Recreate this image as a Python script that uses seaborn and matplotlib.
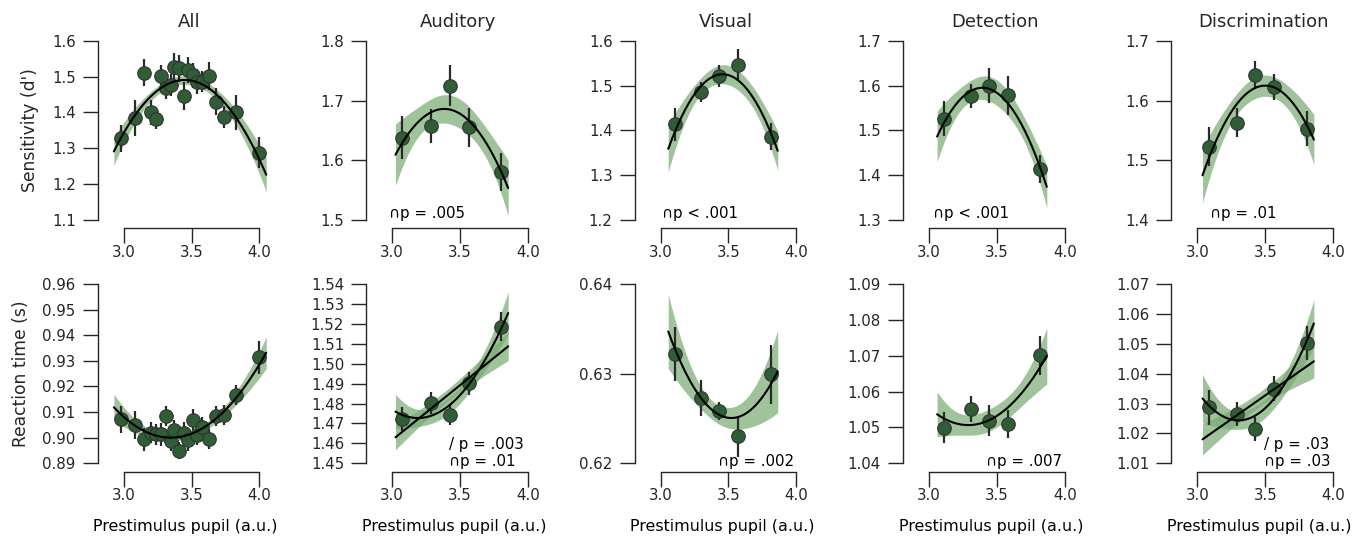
import numpy as np
import matplotlib
matplotlib.use("Agg")
import matplotlib.pyplot as plt
from matplotlib.ticker import FormatStrFormatter
import seaborn as sns

# ---------------- data ----------------
titles = ["All", "Auditory", "Visual", "Detection", "Discrimination"]

all_x = [2.978, 3.084, 3.150, 3.199, 3.236, 3.275, 3.310, 3.346, 3.368, 3.408,
         3.442, 3.477, 3.509, 3.543, 3.580, 3.629, 3.680, 3.740, 3.826, 4.000]
all_dprime = [1.328, 1.384, 1.511, 1.401, 1.383, 1.503, 1.467, 1.476, 1.528, 1.523,
              1.446, 1.518, 1.504, 1.486, 1.486, 1.502, 1.430, 1.387, 1.400, 1.288]
all_dprime_err = [0.037, 0.050, 0.037, 0.035, 0.028, 0.028, 0.030, 0.030, 0.038, 0.038,
                  0.040, 0.036, 0.035, 0.035, 0.030, 0.040, 0.037, 0.030, 0.050, 0.043]
all_rt = [0.9072, 0.9048, 0.8994, 0.9020, 0.9013, 0.9013, 0.9085, 0.8987, 0.9029, 0.8950,
          0.9020, 0.8990, 0.9070, 0.9012, 0.9040, 0.8995, 0.9085, 0.9089, 0.9166, 0.9314]
all_rt_err = [0.0052, 0.0055, 0.0045, 0.0040, 0.0040, 0.0045, 0.0040, 0.0040, 0.0040, 0.0033,
              0.0040, 0.0040, 0.0040, 0.0040, 0.0040, 0.0040, 0.0040, 0.0040, 0.0040, 0.0065]

aud_x = [3.075, 3.285, 3.423, 3.563, 3.805]
aud_dprime = [1.638, 1.657, 1.725, 1.655, 1.580]
aud_dprime_err = [0.036, 0.028, 0.034, 0.032, 0.032]
aud_rt = [1.4723, 1.4801, 1.4743, 1.4902, 1.5186]
aud_rt_err = [0.0060, 0.0055, 0.0050, 0.0057, 0.0075]

vis_x = [3.107, 3.296, 3.430, 3.571, 3.813]
vis_dprime = [1.414, 1.486, 1.521, 1.546, 1.386]
vis_dprime_err = [0.037, 0.022, 0.025, 0.035, 0.030]
vis_rt = [0.6322, 0.6273, 0.6258, 0.6230, 0.6299]
vis_rt_err = [0.0030, 0.0020, 0.0010, 0.0023, 0.0033]

det_x = [3.110, 3.310, 3.443, 3.584, 3.818]
det_dprime = [1.526, 1.576, 1.600, 1.578, 1.414]
det_dprime_err = [0.039, 0.027, 0.039, 0.043, 0.032]
det_rt = [1.0499, 1.0551, 1.0519, 1.0510, 1.0701]
det_rt_err = [0.0043, 0.0036, 0.0044, 0.0039, 0.0055]

dis_x = [3.088, 3.291, 3.425, 3.568, 3.808]
dis_dprime = [1.523, 1.563, 1.643, 1.623, 1.553]
dis_dprime_err = [0.033, 0.024, 0.023, 0.022, 0.029]
dis_rt = [1.0287, 1.0265, 1.0215, 1.0350, 1.0502]
dis_rt_err = [0.0058, 0.0039, 0.0040, 0.0042, 0.0056]

xs_list = [all_x, aud_x, vis_x, det_x, dis_x]
dprime_list = [all_dprime, aud_dprime, vis_dprime, det_dprime, dis_dprime]
dprime_err_list = [all_dprime_err, aud_dprime_err, vis_dprime_err, det_dprime_err, dis_dprime_err]
rt_list = [all_rt, aud_rt, vis_rt, det_rt, dis_rt]
rt_err_list = [all_rt_err, aud_rt_err, vis_rt_err, det_rt_err, dis_rt_err]

dprime_ticks = [[1.1, 1.2, 1.3, 1.4, 1.5, 1.6],
                [1.5, 1.6, 1.7, 1.8],
                [1.2, 1.3, 1.4, 1.5, 1.6],
                [1.3, 1.4, 1.5, 1.6, 1.7],
                [1.4, 1.5, 1.6, 1.7]]
rt_ticks = [[0.89, 0.90, 0.91, 0.92, 0.93, 0.94, 0.95, 0.96],
            [1.45, 1.46, 1.47, 1.48, 1.49, 1.50, 1.51, 1.52, 1.53, 1.54],
            [0.62, 0.63, 0.64],
            [1.04, 1.05, 1.06, 1.07, 1.08, 1.09],
            [1.01, 1.02, 1.03, 1.04, 1.05, 1.06, 1.07]]
x_ticks = [3.0, 3.5, 4.0]

# polynomial orders fitted per panel
dprime_orders = [[2], [2], [2], [2], [2]]
rt_orders = [[2], [1, 2], [2], [2], [1, 2]]

# statistics annotations
dprime_stats = ["", "\u2229p = .005", "\u2229p < .001", "\u2229p < .001", "\u2229p = .01"]
rt_stats = ["", "/ p = .003\n\u2229p = .01", "\u2229p = .002", "\u2229p = .007",
            "/ p = .03\n\u2229p = .03"]

# ---------------- style ----------------
sns.set_style("ticks")
plt.rcParams["font.family"] = ["DejaVu Sans"]

point_color = "#2f5d36"
band_color = (120 / 255, 170 / 255, 115 / 255)

fig, axes = plt.subplots(2, 5, figsize=(13.66, 5.37), dpi=100)
fig.subplots_adjust(left=0.0776, right=0.9859, bottom=0.1372, top=0.9242,
                    wspace=0.607, hspace=0.355)


def fit_curve(x, y, err, order, grid):
    x = np.asarray(x, float)
    y = np.asarray(y, float)
    w = 1.0 / np.asarray(err, float)
    coefs, cov = np.polyfit(x, y, order, w=w, cov="unscaled")
    X = np.vander(grid, order + 1)
    yhat = X @ coefs
    se = np.sqrt(np.einsum("ij,jk,ik->i", X, cov, X))
    return yhat, se


def draw_panel(ax, x, y, err, orders, ticks, stat, stat_pos):
    grid = np.linspace(min(x) - 0.05, max(x) + 0.05, 200)
    fits = [fit_curve(x, y, err, o, grid) for o in orders]
    for yhat, se in fits:
        ax.fill_between(grid, yhat - 1.2 * se, yhat + 1.2 * se, color=band_color,
                        alpha=0.7, lw=0, zorder=1)
    ax.errorbar(x, y, yerr=err, fmt="none", ecolor="#2a2a2a", elinewidth=1.6,
                capsize=0, zorder=2)
    sns.scatterplot(x=x, y=y, ax=ax, s=95, color=point_color, edgecolor="#333333",
                    linewidth=0.8, zorder=3, legend=False)
    for yhat, se in fits:
        sns.lineplot(x=grid, y=yhat, ax=ax, color="black", lw=1.5, zorder=4,
                     sort=False, errorbar=None)
    ax.set_xlim(2.87, 4.10)
    ax.set_ylim(ticks[0], ticks[-1])
    ax.set_xticks(x_ticks)
    ax.set_yticks(ticks)
    ax.xaxis.set_major_formatter(FormatStrFormatter("%.1f"))
    ax.tick_params(axis="both", length=10.8, width=1.0, labelsize=10.8, colors=".15")
    ax.tick_params(axis="x", pad=1.0)
    ax.tick_params(axis="y", pad=5.0)
    for sp in ax.spines.values():
        sp.set_linewidth(1.0)
        sp.set_color(".15")
    if stat:
        ax.text(stat_pos[0], stat_pos[1], stat, transform=ax.transAxes,
                ha=stat_pos[2], va="bottom", fontsize=10.8, color="black",
                linespacing=1.12, zorder=5)
    sns.despine(ax=ax, offset=6, trim=True)


dprime_stat_pos = [None, (0.313, -0.005, "center"), (0.341, -0.005, "center"),
                   (0.359, -0.005, "center"), (0.381, -0.005, "center")]
rt_stat_pos = [None, (0.445, -0.03, "left"), (0.449, -0.03, "left"),
               (0.447, -0.03, "left"), (0.505, -0.03, "left")]

for i in range(5):
    ax = axes[0, i]
    draw_panel(ax, xs_list[i], dprime_list[i], dprime_err_list[i], dprime_orders[i],
               dprime_ticks[i], dprime_stats[i], dprime_stat_pos[i])
    ax.yaxis.set_major_formatter(FormatStrFormatter("%.1f"))
    ax.set_title(titles[i], fontsize=13, color=".15", pad=10)
    ax.set_xlabel("")

    ax = axes[1, i]
    draw_panel(ax, xs_list[i], rt_list[i], rt_err_list[i], rt_orders[i],
               rt_ticks[i], rt_stats[i], rt_stat_pos[i])
    ax.yaxis.set_major_formatter(FormatStrFormatter("%.2f"))
    ax.set_xlabel("Prestimulus pupil (a.u.)", fontsize=11.4, color="black")
    ax.xaxis.set_label_coords(0.476, -0.31)

axes[0, 0].set_ylabel("Sensitivity (d')", fontsize=12.3, color=".15", labelpad=9)
axes[1, 0].set_ylabel("Reaction time (s)", fontsize=12.3, color=".15", labelpad=9)

fig.savefig("out.png", dpi=100)
